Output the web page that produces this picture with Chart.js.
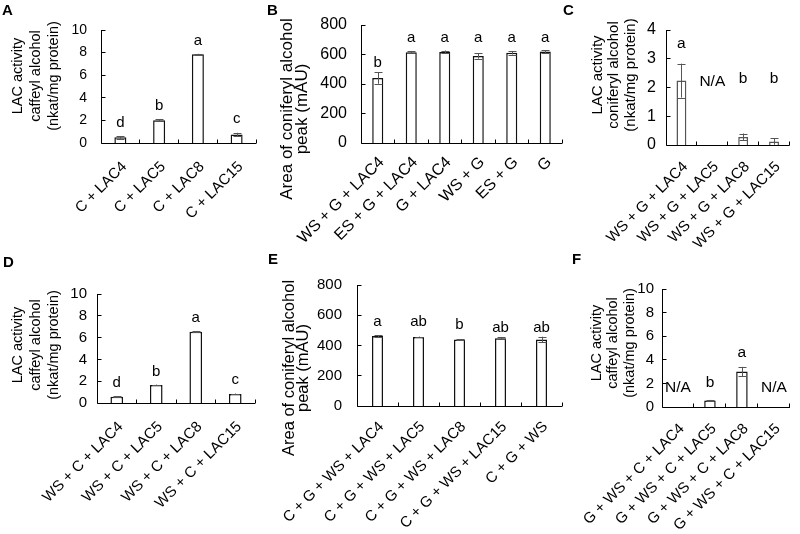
<!DOCTYPE html>
<html><head><meta charset="utf-8">
<script src="https://cdn.jsdelivr.net/npm/chart.js@4/dist/chart.umd.min.js"></script>
<style>
html,body{margin:0;padding:0;background:#fff;}
#wrap{position:relative;width:800px;height:534px;overflow:hidden;background:#fff;}
#wrap canvas{position:absolute;left:0;top:0;}
</style></head><body><div id="wrap"></div>
<script>
// ---------- data ----------
const catA = ['C + LAC4','C + LAC5','C + LAC8','C + LAC15'];
const valA = [0.5, 2.02, 7.85, 0.75];
const errA = [0.12, 0.06, 0.04, 0.15];
const letA = ['d','b','a','c'];
const letYA = [1.44, 2.92, 8.67, 1.74];
const ticksA = [0,2,4,6,8,10];

const catB = ['WS + G + LAC4','ES + G + LAC4','G + LAC4','WS + G','ES + G','G'];
const valB = [440, 615, 617, 590, 612, 620];
const errB = [38, 8, 10, 18, 12, 10];
const letB = ['b','a','a','a','a','a'];
const letYB = [515, 685, 685, 685, 685, 685];
const ticksB = [0,200,400,600,800];

const catC = ['WS + G + LAC4','WS + G + LAC5','WS + G + LAC8','WS + G + LAC15'];
const valC = [2.24, null, 0.28, 0.12];
const errC = [0.59, 0, 0.12, 0.11];
const letC = ['a','N/A','b','b'];
const letYC = [3.37, 2.05, 2.16, 2.16];
const ticksC = [0,1,2,3,4];

const catD = ['WS + C + LAC4','WS + C + LAC5','WS + C + LAC8','WS + C + LAC15'];
const valD = [0.58, 1.65, 6.54, 0.83];
const errD = [0.05, 0.04, 0.04, 0.04];
const letD = ['d','b','a','c'];
const letYD = [1.47, 2.48, 7.43, 1.74];
const ticksD = [0,2,4,6,8,10];

const catE = ['C + G + WS + LAC4','C + G + WS + LAC5','C + G + WS + LAC8','C + G + WS + LAC15','C + G + WS'];
const valE = [462, 456, 439, 448, 440];
const errE = [6, 3, 3, 6, 18];
const letE = ['a','ab','b','ab','ab'];
const letYE = [529, 526, 509, 489, 489];
const ticksE = [0,200,400,600,800];

const catF = ['G + WS + C + LAC4','G + WS + C + LAC5','G + WS + C + LAC8','G + WS + C + LAC15'];
const valF = [null, 0.55, 3.0, null];
const errF = [0, 0.05, 0.4, 0];
const letF = ['N/A','b','a','N/A'];
const letYF = [1.27, 1.7, 4.25, 1.27];
const ticksF = [0,2,4,6,8,10];

const titleLAC = ['LAC activity','caffeyl alcohol','(nkat/mg protein)'];
const titleLACc = ['LAC activity','coniferyl alcohol','(nkat/mg protein)'];
const titleArea = ['Area of coniferyl alcohol','peak (mAU)'];

// ---------- layout / style ----------
const FAM = '"Liberation Sans", Arial, Helvetica, sans-serif';
const panels = [
 {tag:'A', tagX:2, tagY:15, cats:catA, vals:valA, errs:errA, lets:letA, letY:letYA, ticks:ticksA,
  area:{l:101,t:30,r:256,b:143}, barPct:0.31, border:'#111', tickFont:14, tickPad:14, catFont:15, catPad:15,
  title:titleLAC, titleX:[18,35.5,53.5], titleY:76, titleFont:14.5, letFont:15},
 {tag:'B', tagX:267, tagY:15, cats:catB, vals:valB, errs:errB, lets:letB, letY:letYB, ticks:ticksB,
  area:{l:361,t:25,r:562,b:143}, barPct:0.33, border:'#111', tickFont:16, tickPad:14, catFont:16, catPad:10,
  title:titleArea, titleX:[287,302], titleY:109, titleFont:17, letFont:15},
 {tag:'C', tagX:563, tagY:15, cats:catC, vals:valC, errs:errC, lets:letC, letY:letYC, ticks:ticksC,
  area:{l:666,t:30,r:798,b:145}, barPct:0.32, border:'#555', tickFont:16, tickPad:10, catFont:15, catPad:13,
  title:titleLACc, titleX:[598,614,631], titleY:75, titleFont:15, letFont:15.5},
 {tag:'D', tagX:3, tagY:267, cats:catD, vals:valD, errs:errD, lets:letD, letY:letYD, ticks:ticksD,
  area:{l:97,t:294,r:255,b:403}, barPct:0.32, border:'#111', tickFont:15, tickPad:10, catFont:15, catPad:15,
  title:titleLAC, titleX:[18,35.5,54], titleY:345, titleFont:14.5, letFont:15},
 {tag:'E', tagX:268, tagY:264, cats:catE, vals:valE, errs:errE, lets:letE, letY:letYE, ticks:ticksE,
  area:{l:357,t:285,r:562,b:406}, barPct:0.27, border:'#111', tickFont:15, tickPad:15, catFont:15, catPad:12,
  title:titleArea, titleX:[289,303], titleY:368, titleFont:16.5, letFont:15},
 {tag:'F', tagX:572, tagY:264, cats:catF, vals:valF, errs:errF, lets:letF, letY:letYF, ticks:ticksF,
  area:{l:662,t:289,r:797,b:407}, barPct:0.36, border:'#111', tickFont:15, tickPad:8, catFont:15, catPad:13,
  title:titleLAC, titleX:[597,613,630], titleY:343, titleFont:14.5, letFont:15.5}
];

const W = 800, H = 534;
const wrap = document.getElementById('wrap');

function deco(p) {
  return {
    id: 'deco' + p.tag,
    afterDatasetsDraw(chart) {
      const ctx = chart.ctx, xs = chart.scales.x, ys = chart.scales.y;
      const meta = chart.getDatasetMeta(0);
      ctx.save();
      // error bars
      ctx.strokeStyle = '#555'; ctx.lineWidth = 1;
      p.vals.forEach((v, i) => {
        const e = p.errs[i];
        if (v == null || !e) return;
        const x = Math.round(meta.data[i].x) + 0.5;
        const y1 = ys.getPixelForValue(v + e), y2 = ys.getPixelForValue(v - e);
        ctx.beginPath();
        ctx.moveTo(x, y1); ctx.lineTo(x, y2);
        ctx.moveTo(x - 4, Math.round(y1) + 0.5); ctx.lineTo(x + 4, Math.round(y1) + 0.5);
        ctx.moveTo(x - 4, Math.round(y2) + 0.5); ctx.lineTo(x + 4, Math.round(y2) + 0.5);
        ctx.stroke();
      });
      // axes
      const L = Math.floor(chart.chartArea.left) + 0.5;
      const B = Math.floor(chart.chartArea.bottom) + 0.5;
      const T = chart.chartArea.top, R = chart.chartArea.right;
      ctx.strokeStyle = '#000'; ctx.lineWidth = 1;
      ctx.beginPath();
      ctx.moveTo(L, T); ctx.lineTo(L, B); ctx.lineTo(R, B);
      ys.ticks.forEach(t => {
        const y = Math.floor(ys.getPixelForValue(t.value)) + 0.5;
        ctx.moveTo(L, y); ctx.lineTo(L + 4, y);
      });
      const n = p.cats.length, cw = (xs.right - xs.left) / n;
      for (let i = 0; i < n; i++) {
        const x = Math.floor(xs.getPixelForValue(i) + cw / 2) + 0.5;
        ctx.moveTo(x, B); ctx.lineTo(x, B - 4);
      }
      ctx.stroke();
      // significance letters
      ctx.fillStyle = '#000';
      ctx.font = p.letFont + 'px ' + FAM;
      ctx.textAlign = 'center'; ctx.textBaseline = 'alphabetic';
      p.lets.forEach((s, i) => {
        if (!s) return;
        ctx.fillText(s, xs.getPixelForValue(i), ys.getPixelForValue(p.letY[i]));
      });
      // y-axis title
      ctx.font = p.titleFont + 'px ' + FAM;
      ctx.textBaseline = 'middle';
      p.title.forEach((s, i) => {
        ctx.save();
        ctx.translate(p.titleX[i], p.titleY);
        ctx.rotate(-Math.PI / 2);
        ctx.fillText(s, 0, 0);
        ctx.restore();
      });
      // panel tag
      ctx.font = 'bold 15px ' + FAM;
      ctx.textAlign = 'left'; ctx.textBaseline = 'alphabetic';
      ctx.fillText(p.tag, p.tagX, p.tagY);
      ctx.restore();
    }
  };
}

panels.forEach(p => {
  const cv = document.createElement('canvas');
  cv.width = W; cv.height = H;
  cv.style.width = W + 'px'; cv.style.height = H + 'px';
  wrap.appendChild(cv);
  new Chart(cv, {
    type: 'bar',
    data: { labels: p.cats, datasets: [{
      data: p.vals, backgroundColor: '#fff', borderColor: p.border, borderWidth: 1.5,
      barPercentage: p.barPct, categoryPercentage: 1, borderSkipped: 'bottom'
    }]},
    options: {
      responsive: false, maintainAspectRatio: false, animation: false, devicePixelRatio: 1,
      layout: { padding: { left: 0, top: p.area.t, right: W - p.area.r, bottom: 0 } },
      plugins: { legend: { display: false }, tooltip: { enabled: false }, title: { display: false } },
      scales: {
        x: {
          grid: { display: false, drawTicks: false }, border: { display: false },
          ticks: { font: { size: p.catFont, family: FAM }, color: '#000', minRotation: 45, maxRotation: 45,
                   autoSkip: false, padding: p.catPad, labelOffset: 4 },
          afterFit: s => { s.height = H - p.area.b; }
        },
        y: {
          min: 0, max: p.ticks[p.ticks.length - 1],
          grid: { display: false, drawTicks: false }, border: { display: false },
          ticks: { font: { size: p.tickFont, family: FAM }, color: '#000', padding: p.tickPad },
          afterBuildTicks: s => { s.ticks = p.ticks.map(v => ({ value: v })); },
          afterFit: s => { s.width = p.area.l; }
        }
      }
    },
    plugins: [deco(p)]
  });
});
</script>
</body></html>
